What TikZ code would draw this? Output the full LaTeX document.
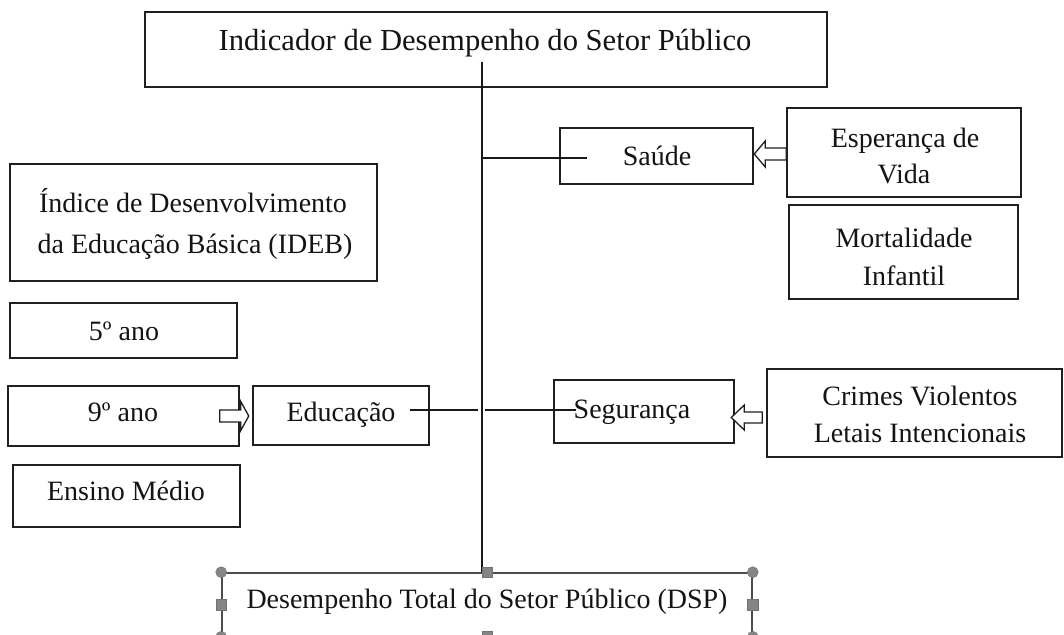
\documentclass[tikz,border=0pt]{standalone}
\usepackage{fontspec}
\setmainfont{Liberation Serif}
\usetikzlibrary{calc}
\begin{document}
\begin{tikzpicture}[x=1pt,y=-1pt,
  box/.style={draw=black!88, line width=1.5pt, inner sep=0pt},
  lbl/.style={font=\fontsize{28}{34}\selectfont, inner sep=0pt, anchor=base, text=black!92},
  ln/.style={draw=black!90, line width=1.3pt},
  harrow/.style={draw=black!88, line width=1.3pt, fill=white, line join=miter},
  sel/.style={draw=black!70, line width=1.6pt},
  hndc/.style={circle, fill=black!48, draw=black!55, line width=0.4pt, minimum size=11pt, inner sep=0pt},
  hnds/.style={rectangle, fill=black!48, draw=black!55, line width=0.4pt, minimum size=10.5pt, inner sep=0pt}]
\useasboundingbox (0,0) rectangle (1064,634);
\clip (0,0) rectangle (1064,634);
\fill[white] (0,0) rectangle (1064,634);

% boxes
\node[box, minimum width=682, minimum height=75] (top) at (486,49.5) {};
\node[box, minimum width=193, minimum height=56] (sau) at (656.5,156) {};
\node[box, minimum width=234, minimum height=89] (esp) at (904,152.5) {};
\node[box, minimum width=229, minimum height=94] (mort) at (903.5,252) {};
\node[box, minimum width=367, minimum height=117] (ideb) at (193.5,222.5) {};
\node[box, minimum width=227, minimum height=55] (ano5) at (123.5,330.5) {};
\node[box, minimum width=231, minimum height=60] (ano9) at (123.5,416) {};
\node[box, minimum width=176, minimum height=59] (edu) at (341,415.5) {};
\node[box, minimum width=180, minimum height=63] (seg) at (644,411.5) {};
\node[box, minimum width=295, minimum height=88] (cri) at (914.5,413) {};
\node[box, minimum width=227, minimum height=62] (em) at (126.5,496) {};
\node[sel, rectangle, inner sep=0pt, minimum width=530, minimum height=63] (dsp) at (487,604.5) {};

% labels
\node[lbl, font=\fontsize{30.6}{36}\selectfont] (topt) at (485,50) {Indicador de Desempenho do Setor Público};
\node[lbl] (saut) at (657,165) {Saúde};
\node[lbl] (espt1) at (905,147) {Esperança de};
\node[lbl] (espt2) at (904,183) {Vida};
\node[lbl] (mortt1) at (904,247) {Mortalidade};
\node[lbl] (mortt2) at (904,285) {Infantil};
\node[lbl] (idebt1) at (193,212) {Índice de Desenvolvimento};
\node[lbl] (idebt2) at (195,253) {da Educação Básica (IDEB)};
\node[lbl] (ano5t) at (124,340) {5º ano};
\node[lbl] (ano9t) at (123,421) {9º ano};
\node[lbl] (edut) at (341,421) {Educação};
\node[lbl] (segt) at (632,418) {Segurança};
\node[lbl] (crit1) at (920,405) {Crimes Violentos};
\node[lbl] (crit2) at (920,442) {Letais Intencionais};
\node[lbl] (emt) at (126,500) {Ensino Médio};
\node[lbl] (dspt) at (487,608) {Desempenho Total do Setor Público (DSP)};

% trunk and branches
\coordinate (trunktop) at (482,62);
\coordinate (sauend) at (587,158);
\coordinate (eduend) at (410,410);
\coordinate (segend) at (576,410);
\draw[ln] (trunktop) -- (trunktop |- dsp.north);
\draw[ln] (trunktop |- sauend) -- (sauend);
\draw[ln] (eduend) -- ($(trunktop |- eduend)+(-4,0)$);
\draw[ln] ($(trunktop |- eduend)+(3,0)$) -- (segend);

% hollow arrows
\draw[harrow] ($(esp.west)+(0,-4.5)$) -- ++(-21,0) -- ++(0,-7) -- ++(-11,13) -- ++(11,13) -- ++(0,-7) -- ++(21,0) -- cycle;
\draw[harrow] ($(cri.west)+(-4,-1)$) -- ++(-18,0) -- ++(0,-7) -- ++(-13,12.5) -- ++(13,12.5) -- ++(0,-7) -- ++(18,0) -- cycle;
\draw[harrow] ($(ano9.east)+(-20,-6)$) -- ++(21,0) -- ++(0,-8.5) -- ++(8,14.5) -- ++(-8,14.5) -- ++(0,-8.5) -- ++(-21,0) -- cycle;

% selection handles on the DSP box
\node[hndc] (hnw) at (dsp.north west) {};
\node[hndc] (hne) at (dsp.north east) {};
\node[hndc] (hsw) at (dsp.south west) {};
\node[hndc] (hse) at (dsp.south east) {};
\node[hnds] (hn) at (dsp.north) {};
\node[hnds] (hw) at (dsp.west) {};
\node[hnds] (he) at (dsp.east) {};
\node[hnds] (hs) at (dsp.south) {};
\end{tikzpicture}
\end{document}
